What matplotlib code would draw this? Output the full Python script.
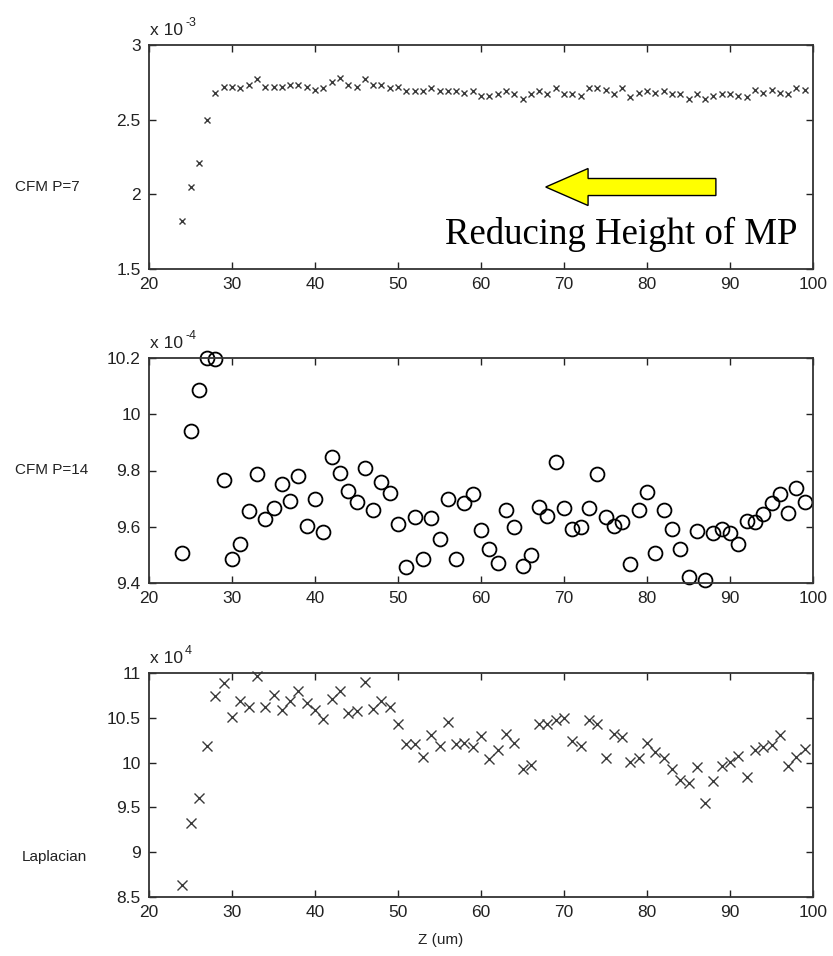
import matplotlib
matplotlib.use("Agg")
import matplotlib.pyplot as plt
from matplotlib.patches import FancyArrow

plt.rcParams['font.family'] = ['Liberation Sans', 'DejaVu Sans']

z = list(range(24, 100))

cfm7 = [1.82, 2.05, 2.21, 2.50,
        2.68, 2.72, 2.72, 2.71, 2.73, 2.77, 2.72, 2.72, 2.72, 2.73, 2.73, 2.72, 2.70,
        2.71, 2.75, 2.78, 2.73, 2.72, 2.77, 2.73, 2.73, 2.71, 2.72, 2.69, 2.69, 2.69,
        2.71, 2.69, 2.69, 2.69, 2.68, 2.69, 2.66, 2.66, 2.67, 2.69, 2.67, 2.64, 2.67,
        2.69, 2.67, 2.71, 2.67, 2.67, 2.66, 2.71, 2.71, 2.70, 2.67, 2.71, 2.65, 2.68,
        2.69, 2.68, 2.69, 2.67, 2.67, 2.64, 2.67, 2.64, 2.66, 2.67, 2.67, 2.66, 2.65,
        2.70, 2.68, 2.70, 2.68, 2.67, 2.71, 2.70]

cfm14 = [9.507, 9.94, 10.085, 10.20, 10.195, 9.765, 9.484, 9.54, 9.655, 9.786,
         9.628, 9.667, 9.753, 9.692, 9.782, 9.604, 9.698, 9.58, 9.849, 9.792,
         9.726, 9.687, 9.809, 9.66, 9.759, 9.72, 9.61, 9.456, 9.634, 9.484,
         9.632, 9.555, 9.699, 9.484, 9.683, 9.716, 9.588, 9.522, 9.472, 9.66,
         9.60, 9.462, 9.50, 9.671, 9.638, 9.831, 9.665, 9.593, 9.60, 9.665,
         9.788, 9.634, 9.603, 9.617, 9.466, 9.66, 9.725, 9.505, 9.66, 9.593,
         9.522, 9.42, 9.584, 9.41, 9.579, 9.593, 9.579, 9.539, 9.622, 9.616,
         9.644, 9.683, 9.716, 9.65, 9.739, 9.688]

lap = [8.634, 9.33, 9.60, 10.19, 10.747, 10.885, 10.51, 10.69, 10.62, 10.97,
       10.62, 10.75, 10.587, 10.69, 10.795, 10.66, 10.587, 10.49, 10.705, 10.795,
       10.557, 10.576, 10.896, 10.60, 10.69, 10.62, 10.43, 10.21, 10.21, 10.066,
       10.31, 10.185, 10.45, 10.21, 10.215, 10.17, 10.297, 10.035, 10.14, 10.315,
       10.22, 9.93, 9.977, 10.43, 10.427, 10.47, 10.50, 10.24, 10.19, 10.47,
       10.43, 10.05, 10.32, 10.29, 10.01, 10.05, 10.22, 10.12, 10.05, 9.93,
       9.806, 9.77, 9.947, 9.546, 9.79, 9.962, 10.01, 10.077, 9.843, 10.14,
       10.177, 10.20, 10.31, 9.962, 10.057, 10.15]

xticks = [20, 30, 40, 50, 60, 70, 80, 90, 100]
yticks_top = [1.5, 2, 2.5, 3]
yticks_mid = [9.4, 9.6, 9.8, 10, 10.2]
yticks_bot = [8.5, 9, 9.5, 10, 10.5, 11]
ylabels = ["CFM P=7", "CFM P=14", "Laplacian"]
exponents = ["-3", "-4", "4"]

W, H = 833, 956
fig = plt.figure(figsize=(W / 100, H / 100), dpi=100)

def fx(px):
    return px / W

def fy(py):
    return 1 - py / H

left, right = 149, 813
panels = [(45, 269), (358, 583), (673, 897)]
axes = []
for (t, b) in panels:
    ax = fig.add_axes([fx(left), fy(b), fx(right - left), (b - t) / H])
    axes.append(ax)

def style(ax, yt, ylim):
    ax.set_xlim(20, 100)
    ax.set_ylim(*ylim)
    ax.set_xticks(xticks)
    ax.set_xticklabels([str(v) for v in xticks])
    ax.set_yticks(yt)
    ax.set_yticklabels([("%g" % v) for v in yt])
    ax.tick_params(direction='in', length=5, width=1.0, top=True, right=True,
                   labelsize=12.5, colors='#222222')
    ax.tick_params(axis='x', pad=6)
    ax.tick_params(axis='y', pad=6)
    for s in ax.spines.values():
        s.set_linewidth(1.3)
        s.set_color('#333333')

ax = axes[0]
ax.plot(z, cfm7, linestyle='none', marker='x', markersize=5, markeredgewidth=1.0,
        color='#3a3a3a', clip_on=False)
style(ax, yticks_top, (1.5, 3))
arr = FancyArrow(88.3, 2.049, -20.5, 0, width=0.114, head_width=0.248,
                 head_length=5.1, length_includes_head=True,
                 facecolor='#ffff00', edgecolor='black', linewidth=1.0)
ax.add_patch(arr)
fig.text(fx(445), fy(244), "Reducing Height of MP", family=['Liberation Serif'],
         fontsize=26.5, ha='left', va='baseline', color='black')

ax = axes[1]
ax.plot(z, cfm14, linestyle='none', marker='o', markersize=10, markeredgewidth=1.3,
        markerfacecolor='none', color='black', clip_on=False)
style(ax, yticks_mid, (9.4, 10.2))

ax = axes[2]
ax.plot(z, lap, linestyle='none', marker='x', markersize=6.5, markeredgewidth=1.0,
        color='#3a3a3a', clip_on=False)
style(ax, yticks_bot, (8.5, 11))

# y labels
fig.text(fx(15), fy(187), ylabels[0], fontsize=11, ha='left', va='center', color='#222222')
fig.text(fx(15), fy(470), ylabels[1], fontsize=11, ha='left', va='center', color='#222222')
fig.text(fx(22), fy(857), ylabels[2], fontsize=11, ha='left', va='center', color='#222222')

# multipliers (x 10^e)
for (t, b), e in zip(panels, exponents):
    fig.text(fx(150), fy(t - 10), "x 10", fontsize=12.5, ha='left', va='baseline',
             color='#222222')
    fig.text(fx(185), fy(t - 19), e, fontsize=9, ha='left', va='baseline',
             color='#222222')

fig.text(fx(441), fy(940), "Z (um)", fontsize=11, ha='center', va='center', color='#222222')

fig.savefig("out.png", dpi=100)
